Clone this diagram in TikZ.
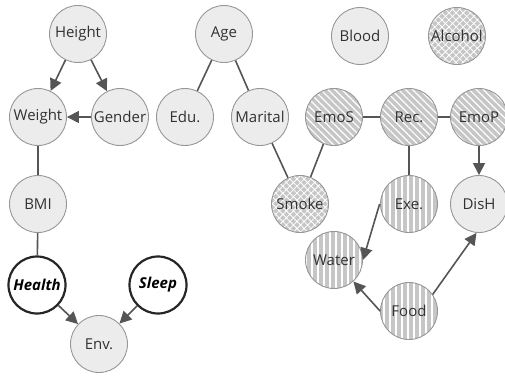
\documentclass[tikz,border=0pt]{standalone}
\usepackage{fontspec}
\setmainfont{Open Sans}
\usetikzlibrary{arrows.meta,patterns,patterns.meta}
\definecolor{edgegray}{RGB}{85,85,85}
\definecolor{rimgray}{RGB}{150,150,150}
\definecolor{txtgray}{RGB}{50,50,50}
\tikzset{
  var/.style={circle, draw=rimgray, line width=0.9pt, minimum size=57pt, inner sep=0pt,
              text=txtgray, font=\fontsize{15}{18}\selectfont},
  plain/.style={var, fill=gray!15},
  crossvar/.style={var, preaction={fill=gray!45},
              pattern={Hatch[angle=45,distance=5pt,line width=0.8pt]}, pattern color=white},
  diagvar/.style={var, preaction={fill=gray!45},
              pattern={Lines[angle=-45,distance=5pt,line width=1.2pt]}, pattern color=white},
  vertvar/.style={var, preaction={fill=gray!45},
              pattern={Lines[angle=90,distance=6pt,line width=1.8pt]}, pattern color=white},
  latent/.style={var, fill=white, draw=black!85, line width=2.2pt, text=black,
              font=\fontsize{15}{18}\selectfont\bfseries\itshape},
  link/.style={edgegray, line width=1.6pt},
  dep/.style={link, -{Triangle[length=12pt,width=12pt]}},
}

\begin{document}
\begin{tikzpicture}[x=1pt,y=-1pt]
  \useasboundingbox (0,0) rectangle (505,377);
  % plain variables
  \foreach \name/\x/\y/\lbl in {height/78/34/Height, weight/38/117/Weight, gender/120/117/Gender,
      bmi/38/204/BMI, env/99/344/Env., age/224/34/Age, edu/185/117/Edu.,
      marital/260/117/Marital, blood/360/36/Blood, dish/479/204/DisH}{
    \node[plain] (\name) at (\x,\y) {\lbl};
  }
  % patterned variables
  \node[crossvar] (alcohol) at (457,36) {Alcohol};
  \node[crossvar] (smoke) at (300,204) {Smoke};
  \node[diagvar] (emos) at (334,117) {EmoS};
  \node[diagvar] (rec) at (409,117) {Rec.};
  \node[diagvar] (emop) at (479,117) {EmoP};
  \node[vertvar] (exe) at (409,204) {Exe.};
  \node[vertvar] (water) at (334,260) {Water};
  \node[vertvar] (food) at (409,311) {Food};
  % latent variables
  \node[latent] (health) at (37,285) {Health};
  \node[latent] (sleep) at (158,285) {Sleep};
  % edges
  \draw[dep] (height) -- (weight);
  \draw[dep] (height) -- (gender);
  \draw[dep] (gender) -- (weight);
  \draw[link] (weight) -- (bmi);
  \draw[link] (bmi) -- (health);
  \draw[dep] (health) -- (env);
  \draw[dep] (sleep) -- (env);
  \draw[link] (age) -- (edu);
  \draw[link] (age) -- (marital);
  \draw[link] (marital) -- (smoke);
  \draw[link] (emos) -- (smoke);
  \draw[link] (emos) -- (rec);
  \draw[link] (rec) -- (emop);
  \draw[link] (rec) -- (exe);
  \draw[dep] (emop) -- (dish);
  \draw[dep] (exe.west) -- (water.east);
  \draw[dep] (food.west) -- (water);
  \draw[dep] (food.35) -- (dish.-95);
\end{tikzpicture}
\end{document}
